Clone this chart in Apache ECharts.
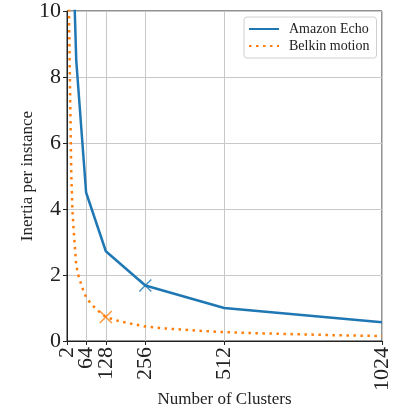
<!DOCTYPE html>
<html>
<head>
<meta charset="utf-8">
<script src="https://cdn.jsdelivr.net/npm/echarts@6/dist/echarts.min.js"></script>
<style>
  html, body { margin: 0; padding: 0; background: #fff; }
  #main { width: 401px; height: 411px; }
</style>
</head>
<body>
<div id="main"></div>
<script>
// x tick positions (number of clusters)
var xTicks = [2, 64, 128, 256, 512, 1024];

// Amazon Echo
var echoK = [2, 4, 8, 16, 32, 64, 128, 256, 512, 1024];
var echoVal = [40, 30, 20, 13.5, 8.5, 4.5, 2.72, 1.68, 1.0, 0.57];

// Belkin motion
var belkinK = [2, 4, 8, 12, 16, 20, 24, 32, 40, 48, 56, 64, 80, 96, 112, 128,
  160, 192, 224, 256, 320, 384, 448, 512, 640, 768, 896, 1024];
var belkinVal = [30, 18, 10.3, 7.5, 5.0, 3.9, 3.3, 2.3, 1.95, 1.72, 1.5, 1.33, 1.13, 0.98, 0.84, 0.73,
  0.63, 0.56, 0.5, 0.44, 0.38, 0.34, 0.3, 0.27, 0.23, 0.2, 0.17, 0.15];

// chosen k markers
var echoPick = [256, 1.68];
var belkinPick = [128, 0.73];

var FONT = "Liberation Serif";
var BLUE = "#1f77b4";
var ORANGE = "#ff7f0e";
var CROSS = "path://M0,0L10,10M10,0L0,10";

function pairs(xs, ys) {
  return xs.map(function (x, i) { return [x, ys[i]]; });
}

// tick labels sit close together, so they are split over two axes
// (every other one) to stop echarts hiding them as overlapping
var labelsA = xTicks.filter(function (v, i) { return i % 2 === 1; });
var labelsB = xTicks.filter(function (v, i) { return i % 2 === 0; });

function labelStyle(values) {
  return {
    customValues: values,
    rotate: 90, margin: 6, hideOverlap: false,
    showMinLabel: true, showMaxLabel: true,
    formatter: function (v) { return String(v); },
    fontFamily: FONT, fontSize: 22, color: "#222"
  };
}

var chart = echarts.init(document.getElementById("main"));
var option = {
  animation: false,
  grid: {
    left: 67, right: 19, top: 11, bottom: 70,
    outerBoundsMode: "none",
    show: true, borderColor: "#222", borderWidth: 1, backgroundColor: "transparent"
  },
  legend: {
    orient: "vertical",
    left: 244, top: 17,
    padding: [5, 7, 5, 4],
    itemGap: 3,
    itemWidth: 30, itemHeight: 14,
    backgroundColor: "#fff",
    borderColor: "#d0d0d0", borderWidth: 1, borderRadius: 3,
    itemStyle: { color: "transparent", borderWidth: 0, opacity: 0 },
    textStyle: { fontFamily: FONT, fontSize: 14, color: "#222", padding: [0, 0, 0, 5] },
    data: ["Amazon Echo", "Belkin motion"]
  },
  xAxis: [
    {
      type: "value",
      min: 2, max: 1024,
      name: "Number of Clusters",
      nameLocation: "middle",
      nameGap: 50,
      nameMoveOverlap: false,
      nameTextStyle: { fontFamily: FONT, fontSize: 17, color: "#222" },
      axisLine: { show: true, lineStyle: { color: "#222", width: 1 } },
      axisTick: { show: true, length: 4, customValues: xTicks, lineStyle: { color: "#222" } },
      axisLabel: labelStyle(labelsA),
      splitLine: { show: true, lineStyle: { color: "#c8c8c8", width: 1 } }
    },
    {
      type: "value",
      position: "bottom",
      min: 2, max: 1024,
      axisLine: { show: false },
      axisTick: { show: false, customValues: labelsB },
      axisLabel: labelStyle(labelsB),
      splitLine: { show: false }
    }
  ],
  yAxis: {
    type: "value",
    min: 0, max: 10, interval: 2,
    name: "Inertia per instance",
    nameLocation: "middle",
    nameRotate: 90,
    nameGap: 31,
    nameMoveOverlap: false,
    nameTextStyle: { fontFamily: FONT, fontSize: 17, color: "#222" },
    axisLine: { show: true, lineStyle: { color: "#222", width: 1 } },
    axisTick: { show: true, length: 4, lineStyle: { color: "#222" } },
    axisLabel: { fontFamily: FONT, fontSize: 22, color: "#222", margin: 6 },
    splitLine: { show: true, lineStyle: { color: "#c8c8c8", width: 1 } }
  },
  series: [
    {
      name: "Amazon Echo",
      type: "line",
      data: pairs(echoK, echoVal),
      symbol: "none",
      clip: true,
      color: BLUE,
      lineStyle: { color: BLUE, width: 2.5 },
      z: 3
    },
    {
      name: "Belkin motion",
      type: "line",
      data: pairs(belkinK, belkinVal),
      symbol: "none",
      clip: true,
      color: ORANGE,
      lineStyle: { color: ORANGE, width: 2.5, type: [2.5, 4.5], cap: "butt" },
      z: 2
    },
    {
      type: "scatter",
      data: [echoPick],
      symbol: CROSS,
      symbolSize: 12,
      itemStyle: { color: "none", borderColor: BLUE, borderWidth: 1.5 },
      z: 4
    },
    {
      type: "scatter",
      data: [belkinPick],
      symbol: CROSS,
      symbolSize: 12,
      itemStyle: { color: "none", borderColor: ORANGE, borderWidth: 1.5 },
      z: 4
    }
  ]
};
chart.setOption(option);
</script>
</body>
</html>
